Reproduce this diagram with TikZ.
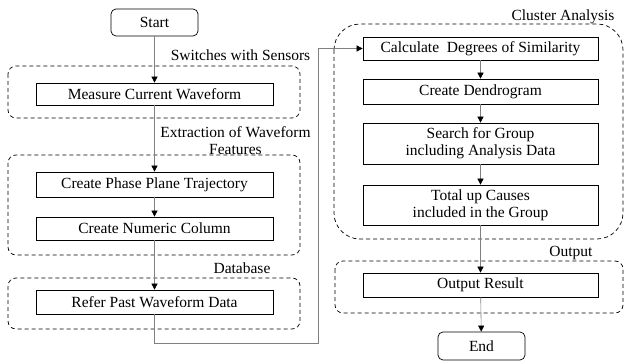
\documentclass[tikz,border=0pt]{standalone}
\usepackage{fontspec}
\setmainfont{Liberation Serif}
\usetikzlibrary{arrows.meta}
\tikzset{
  proc/.style={draw=black, line width=0.7pt, fill=white, inner sep=0pt, align=center, font=\fontsize{15.5}{17}\selectfont},
  term/.style={proc, rounded corners=5pt},
  grp/.style={draw=black, line width=0.7pt, dash pattern=on 4pt off 3pt},
  lbl/.style={inner sep=0pt, align=center, font=\fontsize{15.5}{17}\selectfont},
  conn/.style={draw=gray, line width=0.6pt, -{Triangle[black, length=6pt, width=6pt]}},
}
\begin{document}
\begin{tikzpicture}[x=1pt, y=-1pt]
\useasboundingbox (0,0) rectangle (625,361);
% group frames
\draw[grp, rounded corners=8pt] (8,66) rectangle (300,118);
\draw[grp, rounded corners=8pt] (8,155) rectangle (300,255);
\draw[grp, rounded corners=8pt] (8,278) rectangle (300,329);
\draw[grp, rounded corners=26pt] (334,24) rectangle (623,239);
\draw[grp, rounded corners=8pt] (335,261) rectangle (623,313);
% labels
\node[lbl] (lsw) at (240.5,55) {Switches with Sensors};
\node[lbl] (lex) at (235.5,141) {Extraction of Waveform\\Features};
\node[lbl] (ldb) at (242,268) {Database};
\node[lbl] (lca) at (563,17) {Cluster Analysis};
\node[lbl] (lout) at (571,253) {Output};
% process nodes
\node[term, minimum width=87pt, minimum height=27pt] (start) at (154.5,22.5) {Start};
\node[proc, minimum width=237pt, minimum height=22pt] (meas) at (154.5,94) {Measure Current Waveform};
\node[proc, minimum width=237pt, minimum height=25pt] (phase) at (154.5,184.5) {Create Phase Plane Trajectory};
\node[proc, minimum width=237pt, minimum height=23pt] (num) at (154.5,228.5) {Create Numeric Column};
\node[proc, minimum width=237pt, minimum height=24pt] (refer) at (154.5,302) {Refer Past Waveform Data};
\node[proc, minimum width=235pt, minimum height=23pt] (calc) at (480.5,48.5) {Calculate\ \ Degrees of Similarity};
\node[proc, minimum width=235pt, minimum height=25pt] (dend) at (480.5,91.5) {Create Dendrogram};
\node[proc, minimum width=235pt, minimum height=41pt] (search) at (480.5,143.5) {Search for Group\\including Analysis Data};
\node[proc, minimum width=235pt, minimum height=40pt] (total) at (480.5,205) {Total up Causes\\included in the Group};
\node[proc, minimum width=235pt, minimum height=24pt] (res) at (480.5,285) {Output Result};
\node[term, minimum width=87pt, minimum height=28pt] (end) at (481.5,346) {End};
\coordinate (c1) at (154.5,343);
\coordinate (c2) at (318,343);
\coordinate (c3) at (318,48.5);
% connectors
\draw[conn] (start) -- (meas);
\draw[conn] (meas) -- (phase);
\draw[conn] (phase) -- (num);
\draw[conn] (num) -- (refer);
\draw[conn] (refer.south) -- (c1) -- (c2) -- (c3) -- (calc.west);
\draw[conn] (calc) -- (dend);
\draw[conn] (dend) -- (search);
\draw[conn] (search) -- (total);
\draw[conn] (total) -- (res);
\draw[conn] (res) -- (end);
\end{tikzpicture}
\end{document}
